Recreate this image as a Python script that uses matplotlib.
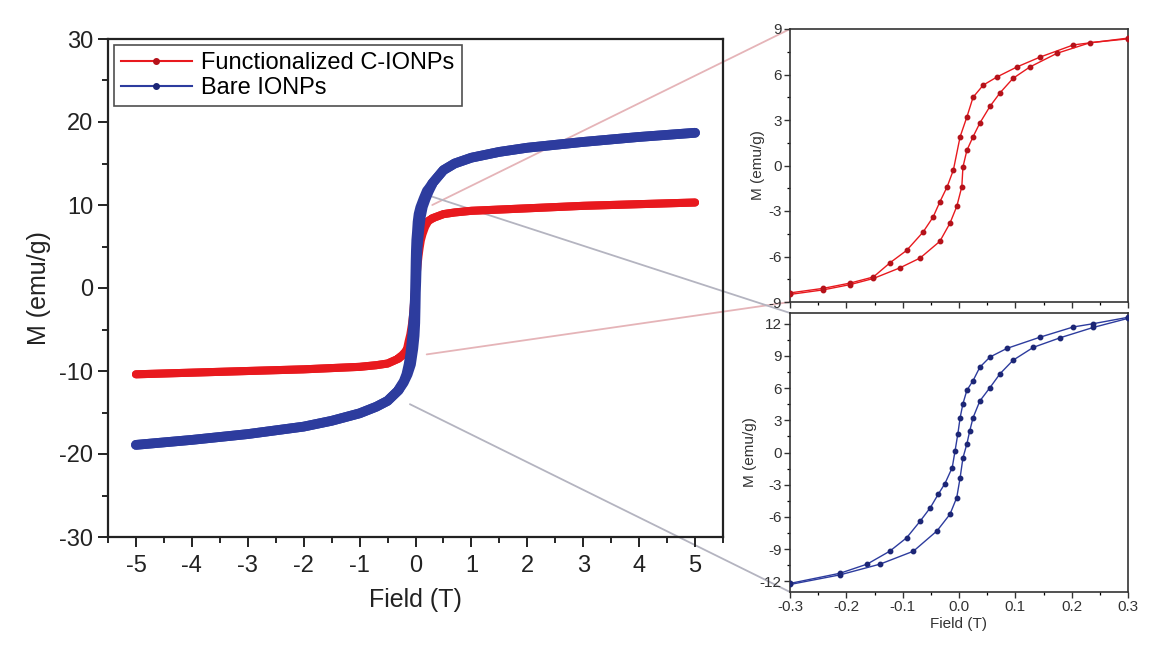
import matplotlib
matplotlib.use("Agg")
import matplotlib.pyplot as plt
from matplotlib.lines import Line2D
from matplotlib.patches import ConnectionPatch
from matplotlib.ticker import MultipleLocator, FormatStrFormatter

plt.rcParams['font.family'] = ['Liberation Sans', 'DejaVu Sans']
plt.rcParams['axes.unicode_minus'] = False

# ---------------- data ----------------
# outer field range of the main loop (both branches overlap here)
main_field_neg = [-5, -4, -3, -2, -1.5, -1, -0.7, -0.5, -0.3]
main_field_pos = [0.3, 0.5, 0.7, 1, 1.5, 2, 3, 4, 5]
func_M_neg = [-10.4, -10.2, -10.0, -9.8, -9.65, -9.5, -9.3, -9.1, -8.5]
func_M_pos = [8.4, 8.9, 9.1, 9.3, 9.45, 9.6, 9.9, 10.1, 10.3]
bare_M_neg = [-18.9, -18.3, -17.6, -16.7, -16.0, -15.1, -14.3, -13.6, -12.3]
bare_M_pos = [12.6, 14.2, 15.0, 15.7, 16.4, 16.9, 17.6, 18.2, 18.7]

# low-field loop, Functionalized C-IONPs
func_desc_H = [0.3, 0.203, 0.144, 0.103, 0.068, 0.043, 0.025, 0.014, 0.002, -0.01,
               -0.021, -0.034, -0.046, -0.064, -0.093, -0.122, -0.152, -0.193, -0.241, -0.3]
func_desc_M = [8.4, 7.95, 7.15, 6.5, 5.85, 5.3, 4.5, 3.2, 1.9, -0.3,
               -1.4, -2.4, -3.4, -4.4, -5.6, -6.4, -7.35, -7.75, -8.1, -8.4]
func_asc_H = [-0.3, -0.241, -0.193, -0.152, -0.105, -0.069, -0.034, -0.016, -0.004, 0.005,
              0.007, 0.014, 0.025, 0.037, 0.055, 0.073, 0.096, 0.126, 0.174, 0.233, 0.3]
func_asc_M = [-8.5, -8.2, -7.85, -7.45, -6.75, -6.1, -5.0, -3.8, -2.7, -1.4,
              -0.1, 1.0, 1.9, 2.8, 3.9, 4.8, 5.75, 6.5, 7.4, 8.1, 8.35]

# low-field loop, Bare IONPs
bare_desc_H = [0.3, 0.238, 0.203, 0.144, 0.085, 0.055, 0.037, 0.025, 0.014, 0.007, 0.002,
               -0.002, -0.007, -0.012, -0.025, -0.037, -0.051, -0.069, -0.093, -0.123,
               -0.163, -0.211, -0.3]
bare_desc_M = [12.6, 12.0, 11.7, 10.75, 9.7, 8.9, 7.95, 6.7, 5.8, 4.55, 3.25,
               1.75, 0.15, -1.4, -2.9, -3.9, -5.15, -6.4, -7.95, -9.2,
               -10.4, -11.25, -12.2]
bare_asc_H = [-0.3, -0.211, -0.14, -0.081, -0.039, -0.016, -0.004, 0.002, 0.007, 0.014,
              0.019, 0.025, 0.037, 0.055, 0.073, 0.096, 0.132, 0.18, 0.238, 0.3]
bare_asc_M = [-12.3, -11.4, -10.4, -9.2, -7.3, -5.75, -4.2, -2.35, -0.5, 0.8,
              2.0, 3.25, 4.8, 6.05, 7.35, 8.6, 9.8, 10.7, 11.65, 12.5]

labels = ['Functionalized C-IONPs', 'Bare IONPs']
RED = '#e8191e'
RED_DARK = '#b5121a'
BLUE = '#2d3c9e'
BLUE_DARK = '#1c2676'

# ---------------- figure ----------------
W, H = 1157, 664
fig = plt.figure(figsize=(W / 100, H / 100), dpi=100)

ax = fig.add_axes([108 / W, 1 - 537 / H, (723 - 108) / W, (537 - 39) / H])
axT = fig.add_axes([790 / W, 1 - 302 / H, (1128 - 790) / W, (302 - 29) / H])
axB = fig.add_axes([790 / W, 1 - 592 / H, (1128 - 790) / W, (592 - 313) / H])
ax.set_facecolor('none')


def branch(pos_H, pos_M, mid_H, mid_M, neg_H, neg_M, descending):
    if descending:
        hh = list(reversed(pos_H)) + mid_H + list(reversed(neg_H))
        mm = list(reversed(pos_M)) + mid_M + list(reversed(neg_M))
    else:
        hh = neg_H + mid_H + pos_H
        mm = neg_M + mid_M + pos_M
    return hh, mm


# main loop
for (mid_dH, mid_dM, mid_aH, mid_aM, mneg, mpos, col, lw) in [
        (func_desc_H, func_desc_M, func_asc_H, func_asc_M, func_M_neg, func_M_pos, RED, 5.8),
        (bare_desc_H, bare_desc_M, bare_asc_H, bare_asc_M, bare_M_neg, bare_M_pos, BLUE, 7.0)]:
    h1, m1 = branch(main_field_pos, mpos, mid_dH, mid_dM, main_field_neg, mneg, True)
    h2, m2 = branch(main_field_pos, mpos, mid_aH, mid_aM, main_field_neg, mneg, False)
    ax.plot(h1, m1, color=col, lw=lw, solid_capstyle='round', solid_joinstyle='round', zorder=3)
    ax.plot(h2, m2, color=col, lw=lw, solid_capstyle='round', solid_joinstyle='round', zorder=3)

ax.set_xlim(-5.5, 5.5)
ax.set_ylim(-30, 30)
ax.xaxis.set_major_locator(MultipleLocator(1))
ax.xaxis.set_minor_locator(MultipleLocator(0.5))
ax.yaxis.set_major_locator(MultipleLocator(10))
ax.yaxis.set_minor_locator(MultipleLocator(5))
ax.tick_params(which='major', direction='out', length=7, width=1.4, labelsize=17, colors='#222222')
ax.tick_params(which='minor', direction='out', length=4, width=1.2)
ax.tick_params(axis='x', pad=6)
for s in ax.spines.values():
    s.set_linewidth(1.6)
    s.set_color('#222222')
ax.set_xlabel('Field (T)', fontsize=18, color='#222222', labelpad=8)
ax.set_ylabel('M (emu/g)', fontsize=18, color='#222222', labelpad=6)

handles = [Line2D([], [], color=RED, lw=1.5, marker='o', ms=4, mfc=RED_DARK, mec=RED_DARK),
           Line2D([], [], color=BLUE, lw=1.5, marker='o', ms=4, mfc=BLUE_DARK, mec=BLUE_DARK)]
leg = ax.legend(handles, labels, loc='upper left', fontsize=17, frameon=True, fancybox=False,
                edgecolor='#222222', borderaxespad=0.25, handlelength=3.0, labelspacing=0.12,
                borderpad=0.3, handletextpad=0.4)
leg.get_frame().set_linewidth(1.2)

# insets
for a, dH, dM, aH, aM, col, dcol, ylim, step, showx in [
        (axT, func_desc_H, func_desc_M, func_asc_H, func_asc_M, RED, RED_DARK, (-9, 9), 3, False),
        (axB, bare_desc_H, bare_desc_M, bare_asc_H, bare_asc_M, BLUE, BLUE_DARK, (-13, 13), 3, True)]:
    a.plot(dH, dM, color=col, lw=1.0, marker='o', ms=3.2, mfc=dcol, mec=dcol, zorder=3)
    a.plot(aH, aM, color=col, lw=1.0, marker='o', ms=3.2, mfc=dcol, mec=dcol, zorder=3)
    a.set_xlim(-0.3, 0.3)
    a.set_ylim(*ylim)
    a.xaxis.set_major_locator(MultipleLocator(0.1))
    a.xaxis.set_minor_locator(MultipleLocator(0.05))
    a.yaxis.set_major_locator(MultipleLocator(step))
    a.yaxis.set_minor_locator(MultipleLocator(step / 2))
    a.xaxis.set_major_formatter(FormatStrFormatter('%.1f'))
    a.tick_params(which='major', direction='out', length=4, width=1.0, labelsize=11,
                  colors='#333333', pad=2)
    a.tick_params(which='minor', direction='out', length=2.5, width=0.9)
    if not showx:
        a.tick_params(axis='x', labelbottom=False)
    for s in a.spines.values():
        s.set_linewidth(1.2)
        s.set_color('#333333')
    a.set_ylabel('M (emu/g)', fontsize=11, color='#333333', labelpad=2)

axB.set_xlabel('Field (T)', fontsize=11, color='#333333', labelpad=2)

# zoom connector lines
conns = [((0.3, 10), axT, (0, 1), '#e5b4b8'),
         ((0.2, -8), axT, (0, 0), '#e5b4b8'),
         ((0.3, 11), axB, (0, 1), '#b4b4c0'),
         ((-0.1, -14), axB, (0, 0), '#b4b4c0')]
for xyA, tgt, xyB, c in conns:
    con = ConnectionPatch(xyA=xyA, coordsA=ax.transData, xyB=xyB, coordsB=tgt.transAxes,
                          color=c, lw=1.3, zorder=-1)
    fig.add_artist(con)

fig.savefig('out.png', dpi=100, facecolor='white')
